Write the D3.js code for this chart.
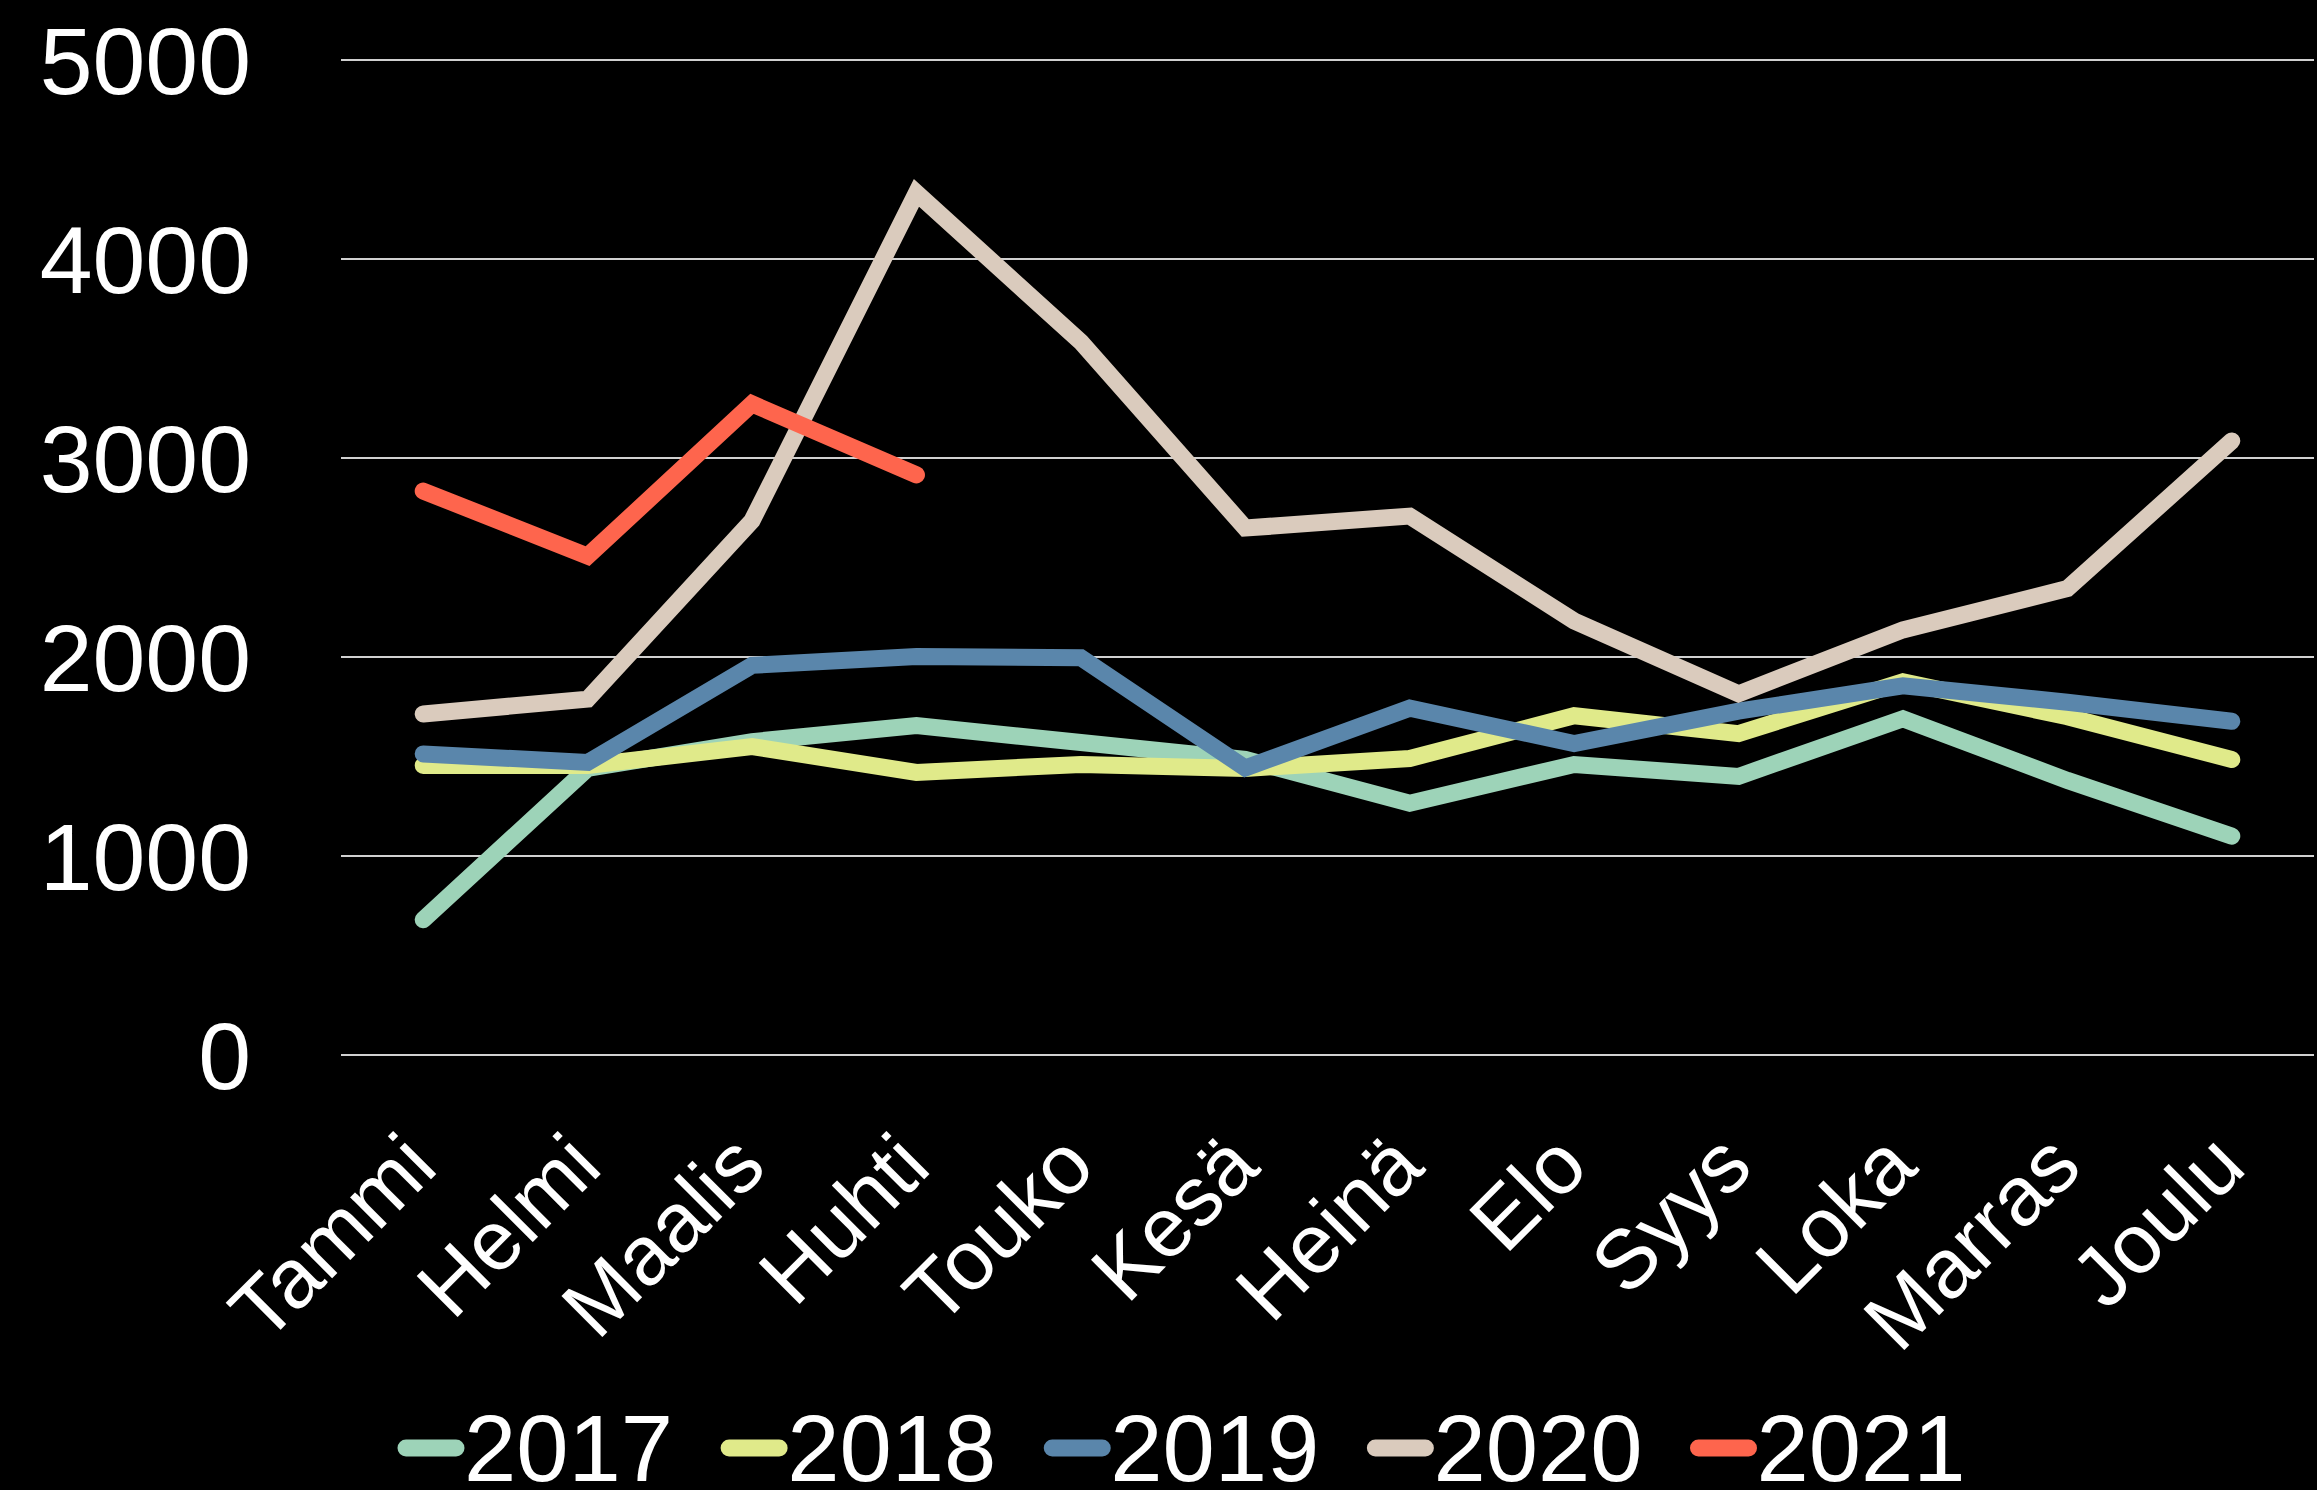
<!DOCTYPE html>
<html>
<head>
<meta charset="utf-8">
<script src="https://cdn.jsdelivr.net/npm/d3@7"></script>
<style>
  html, body { margin: 0; padding: 0; background: #000; }
  svg { display: block; }
  text { font-family: "Liberation Sans", Arial, Helvetica, sans-serif; fill: #fff; }
</style>
</head>
<body>
<script>
const months = ["Tammi","Helmi","Maalis","Huhti","Touko","Kesä","Heinä","Elo","Syys","Loka","Marras","Joulu"];
const years = ["2017","2018","2019","2020","2021"];
const colors = ["#9dd3b8","#e0ea8a","#5a86ab","#dacbbd","#fe654d"];
const yTicks = [0,1000,2000,3000,4000,5000];

const v2017 = [680,1440,1575,1655,1570,1485,1265,1460,1400,1690,1380,1100];
const v2018 = [1455,1455,1550,1420,1460,1440,1490,1705,1615,1875,1700,1485];
const v2019 = [1513,1470,1958,2003,1996,1442,1743,1565,1728,1855,1773,1677];
const v2020 = [1714,1788,2685,4332,3583,2648,2708,2181,1815,2136,2344,3086];
const v2021 = [2834,2507,3272,2915];
const seriesValues = [v2017,v2018,v2019,v2020,v2021];

const W = 2317, H = 1490;
const svg = d3.select("body").append("svg").attr("width", W).attr("height", H);

const x = d3.scaleBand().domain(months).range([341, 2314]);
const y = d3.scaleLinear().domain([0, 5000]).range([1055, 60]);

// grid lines
svg.append("g").selectAll("line").data(yTicks).join("line")
  .attr("x1", 341).attr("x2", 2314)
  .attr("y1", d => y(d)).attr("y2", d => y(d))
  .attr("stroke", "#d0d0d0").attr("stroke-width", 2);

// y labels
svg.append("g").selectAll("text").data(yTicks).join("text")
  .attr("x", 251).attr("y", d => y(d) + 34)
  .attr("text-anchor", "end")
  .attr("font-size", 95)
  .text(d => d);

// x labels
svg.append("g").selectAll("text").data(months).join("text")
  .attr("text-anchor", "end")
  .attr("font-size", 84)
  .attr("transform", d => `translate(${x(d) + x.bandwidth()/2 + 17},1170) rotate(-45)`)
  .text(d => d);

// lines
const line = d3.line()
  .x((d, i) => x(months[i]) + x.bandwidth()/2)
  .y(d => y(d));

svg.append("g").selectAll("path").data(seriesValues).join("path")
  .attr("d", d => line(d))
  .attr("fill", "none")
  .attr("stroke", (d, i) => colors[i])
  .attr("stroke-width", 17)
  .attr("stroke-linecap", "round")
  .attr("stroke-linejoin", "miter")
  .attr("stroke-miterlimit", 10);

// legend
const leg = svg.append("g");
let lx = 398;
years.forEach((yr, i) => {
  leg.append("line")
    .attr("x1", lx + 8).attr("x2", lx + 58)
    .attr("y1", 1448).attr("y2", 1448)
    .attr("stroke", colors[i]).attr("stroke-width", 17)
    .attr("stroke-linecap", "round");
  const t = leg.append("text")
    .attr("x", lx + 66).attr("y", 1481)
    .attr("font-size", 94)
    .text(yr);
  const w = t.node().getComputedTextLength();
  lx += 66 + w + 48;
});
</script>
</body>
</html>
